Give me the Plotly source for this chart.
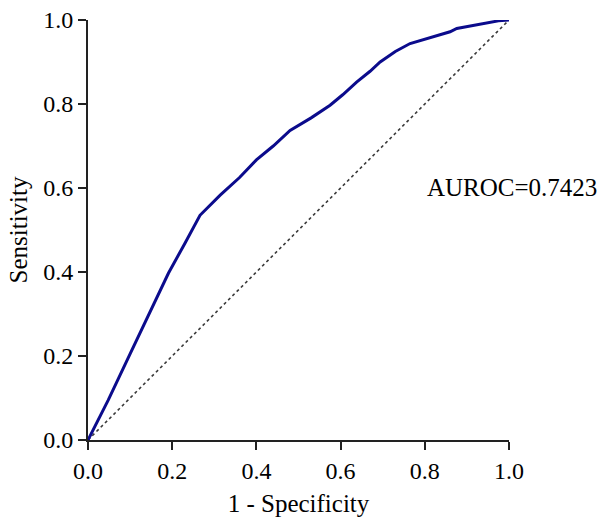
import plotly.graph_objects as go

# ROC curve points (1 - specificity, sensitivity)
fpr = [0.0, 0.048, 0.10, 0.15, 0.191, 0.23, 0.266, 0.314, 0.36, 0.40, 0.44,
       0.48, 0.53, 0.575, 0.605, 0.638, 0.67, 0.694, 0.73, 0.765, 0.81, 0.86, 0.876,
       0.91, 0.947, 0.975, 1.0]
tpr = [0.0, 0.095, 0.205, 0.31, 0.397, 0.468, 0.535, 0.583, 0.625, 0.667, 0.70,
       0.737, 0.767, 0.797, 0.822, 0.852, 0.878, 0.900, 0.925, 0.944, 0.958, 0.972, 0.980,
       0.986, 0.994, 0.998, 1.0]
ref_x = [0.0, 1.0]
ref_y = [0.0, 1.0]
tick_vals = [0.0, 0.2, 0.4, 0.6, 0.8, 1.0]
tick_text = ["0.0", "0.2", "0.4", "0.6", "0.8", "1.0"]
auroc_label = "AUROC=0.7423"

font_family = "Liberation Serif, Times New Roman, serif"

fig = go.Figure()
fig.add_trace(go.Scatter(x=ref_x, y=ref_y, mode="lines",
                         line=dict(color="#3a3a3a", width=1.6, dash="3px,3px"),
                         hoverinfo="skip", showlegend=False))
fig.add_trace(go.Scatter(x=fpr, y=tpr, mode="lines",
                         line=dict(color="#0b0b8c", width=3),
                         showlegend=False))

fig.add_annotation(x=0.80, y=0.602, xref="x", yref="y", text=auroc_label,
                   showarrow=False, xanchor="left", yanchor="middle",
                   font=dict(family=font_family, size=25, color="black"))

axis_common = dict(
    range=[0, 1], tickvals=tick_vals, ticktext=tick_text, automargin=False,
    showgrid=False, zeroline=False, showline=True, linecolor="#222222", linewidth=2,
    ticks="outside", ticklen=8, tickwidth=2, tickcolor="#222222",
    tickfont=dict(family=font_family, size=24, color="black"),
)

fig.update_xaxes(**axis_common,
                 title=dict(text="1 - Specificity", standoff=12,
                            font=dict(family=font_family, size=25, color="black")))
fig.update_yaxes(**axis_common,
                 title=dict(text="Sensitivity", standoff=8,
                            font=dict(family=font_family, size=25, color="black")))

fig.update_layout(
    width=605, height=518,
    margin=dict(l=88, r=96, t=20, b=78),
    plot_bgcolor="white", paper_bgcolor="white",
)

fig.write_html("out.html")
